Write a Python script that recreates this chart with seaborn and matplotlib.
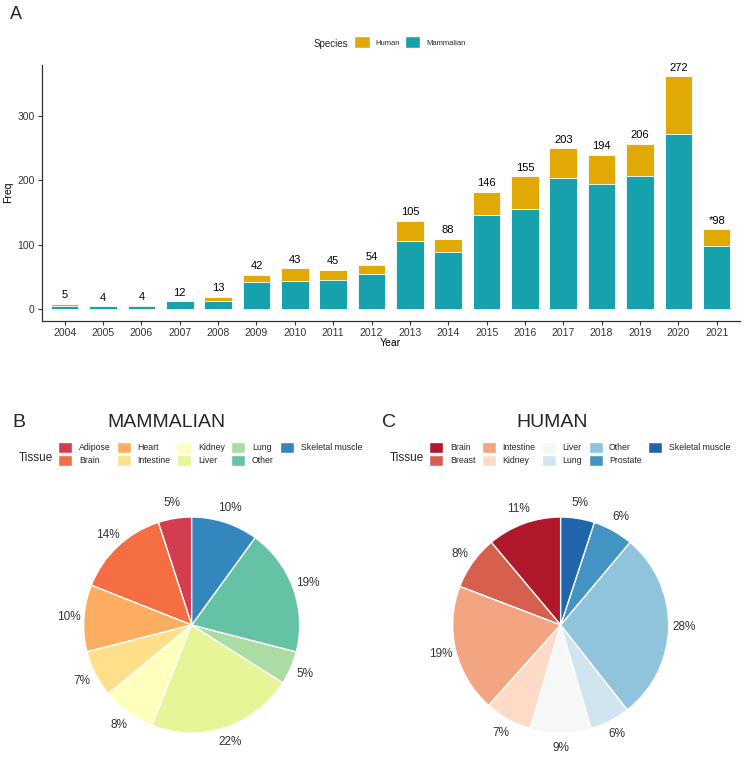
import matplotlib
matplotlib.use("Agg")
import matplotlib.pyplot as plt
from matplotlib.patches import Patch
import seaborn as sns
import pandas as pd

# ---------------- data ----------------
years = ["2004", "2005", "2006", "2007", "2008", "2009", "2010", "2011", "2012",
         "2013", "2014", "2015", "2016", "2017", "2018", "2019", "2020", "2021"]
mammalian = [5, 4, 4, 12, 13, 42, 43, 45, 54, 105, 88, 146, 155, 203, 194, 206, 272, 98]
human = [3, 0, 2, 0, 6, 11, 20, 16, 14, 32, 21, 36, 51, 46, 45, 50, 89, 26]
bar_labels = ["5", "4", "4", "12", "13", "42", "43", "45", "54", "105", "88",
              "146", "155", "203", "194", "206", "272", "*98"]

mam_tissues = ["Adipose", "Brain", "Heart", "Intestine", "Kidney", "Liver",
               "Lung", "Other", "Skeletal muscle"]
mam_pct = [5, 14, 10, 7, 8, 22, 5, 19, 10]

hum_tissues = ["Brain", "Breast", "Intestine", "Kidney", "Liver", "Lung",
               "Other", "Prostate", "Skeletal muscle"]
hum_pct = [11, 8, 19, 7, 9, 6, 28, 6, 5]

# ---------------- style ----------------
sns.set_theme(style="white")
plt.rcParams["font.family"] = ["Liberation Sans", "DejaVu Sans"]

HUMAN_C = "#E1A904"
MAMM_C = "#16A1AC"
spectral = sns.color_palette("Spectral", 9)
rdbu = sns.color_palette("RdBu", 9)

fig = plt.figure(figsize=(7.48, 7.61), dpi=100)

# ---------------- panel A ----------------
df = pd.DataFrame({"Year": years, "Mammalian": mammalian, "Human": human})
df["Total"] = df["Mammalian"] + df["Human"]

ax = fig.add_axes([0.0557, 0.5786, 0.9332, 0.3366])
sns.barplot(data=df, x="Year", y="Total", color=HUMAN_C, saturation=1,
            width=0.72, edgecolor="white", linewidth=0.6, ax=ax)
sns.barplot(data=df, x="Year", y="Mammalian", color=MAMM_C, saturation=1,
            width=0.72, edgecolor="white", linewidth=0.6, ax=ax)
for i, (t, lab) in enumerate(zip(df["Total"], bar_labels)):
    ax.annotate(lab, (i, t), xytext=(0, 2.5), textcoords="offset points",
                ha="center", va="bottom", fontsize=8, color="black")

ymax = df["Total"].max()
ax.set_xlim(-0.6, len(years) - 0.4)
ax.set_ylim(-0.05 * ymax, ymax * 1.05)
ax.set_yticks([0, 100, 200, 300])
for s in ["top", "right"]:
    ax.spines[s].set_visible(False)
for s in ["left", "bottom"]:
    ax.spines[s].set_color("#333333")
    ax.spines[s].set_linewidth(0.9)
ax.tick_params(axis="both", which="both", length=3, width=0.8, color="#333333",
               labelsize=7.5, labelcolor="#333333", pad=2, bottom=True, left=True)
ax.set_xlabel("Year", fontsize=7.5, labelpad=0, color="black")
ax.set_ylabel("Freq", fontsize=7.5, labelpad=3, color="black")

fig.text(0.0134, 0.9816, "A", fontsize=13, va="center", ha="left")
fig.text(0.4198, 0.9428, "Species", fontsize=7, va="center", ha="left")
fig.legend(handles=[Patch(facecolor=HUMAN_C, edgecolor="white", label="Human"),
                    Patch(facecolor=MAMM_C, edgecolor="white", label="Mammalian")],
           loc="upper left", bbox_to_anchor=(0.4737, 0.9523), ncol=2,
           frameon=False, fontsize=5.5, handlelength=2.0, handleheight=2.0,
           handletextpad=0.75, columnspacing=0.66, borderpad=0, borderaxespad=0)


# ---------------- pies ----------------
def draw_pie(rect, values, colors):
    pax = fig.add_axes(rect)
    pax.pie(values, colors=colors, startangle=90, counterclock=True,
            wedgeprops=dict(edgecolor="white", linewidth=1.0),
            autopct="%.0f%%", pctdistance=1.14,
            textprops=dict(fontsize=8.5, color="#333333"))
    pax.set_xlim(-1.2, 1.2)
    pax.set_ylim(-1.2, 1.2)
    pax.set_aspect("equal")
    pax.axis("off")
    return pax


draw_pie([0.0830, 0.0084, 0.3465, 0.3406], mam_pct, spectral)
draw_pie([0.5763, 0.0084, 0.3465, 0.3406], hum_pct, rdbu)

# titles / panel letters
fig.text(0.016, 0.4446, "B", fontsize=14, va="center", ha="left")
fig.text(0.2229, 0.4446, "MAMMALIAN", fontsize=14, va="center", ha="center")
fig.text(0.5107, 0.4446, "C", fontsize=14, va="center", ha="left")
fig.text(0.7376, 0.4446, "HUMAN", fontsize=14, va="center", ha="center")

# legends
legend_kw = dict(loc="upper left", ncol=5, frameon=False, fontsize=6.3,
                 handlelength=1.6, handleheight=1.6, handletextpad=0.75,
                 columnspacing=0.75, labelspacing=0.22, borderpad=0,
                 borderaxespad=0)
fig.text(0.0254, 0.3986, "Tissue", fontsize=8.5, va="center", ha="left")
fig.legend(handles=[Patch(facecolor=c, edgecolor="white", label=l)
                    for c, l in zip(spectral, mam_tissues)],
           bbox_to_anchor=(0.0779, 0.4196), **legend_kw)
fig.text(0.5214, 0.3986, "Tissue", fontsize=8.5, va="center", ha="left")
fig.legend(handles=[Patch(facecolor=c, edgecolor="white", label=l)
                    for c, l in zip(rdbu, hum_tissues)],
           bbox_to_anchor=(0.5739, 0.4196), **legend_kw)

fig.savefig("out.png", dpi=100, facecolor="white")
